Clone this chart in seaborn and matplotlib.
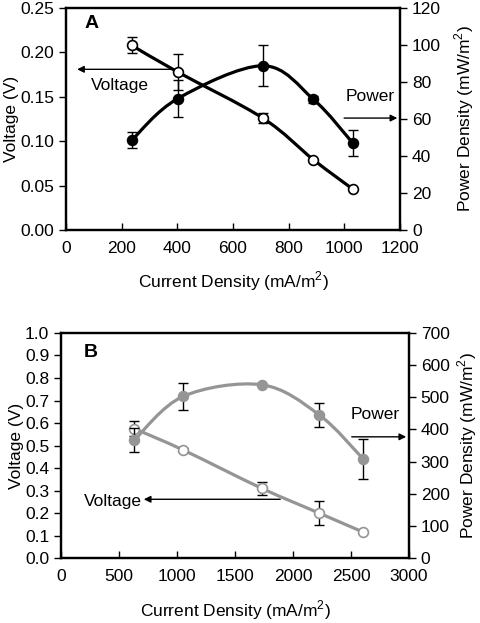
import numpy as np
import seaborn as sns
import matplotlib.pyplot as plt
from matplotlib.path import Path
from matplotlib.patches import PathPatch

# Panel A data
a_current = [236, 401, 707, 889, 1030]
a_voltage = [0.208, 0.178, 0.126, 0.079, 0.046]
a_voltage_err = [0.009, 0.020, 0.006, 0.0, 0.0]
a_power = [48.5, 71.0, 88.8, 70.6, 47.0]
a_power_err = [4.3, 10.0, 11.0, 2.0, 7.0]

# Panel B data
b_current = [632, 1054, 1730, 2224, 2606]
b_voltage = [0.575, 0.48, 0.31, 0.20, 0.115]
b_voltage_err = [0.033, 0.01, 0.03, 0.055, 0.0]
b_power = [367, 503, 539, 446, 308]
b_power_err = [38, 41, 0, 37, 61]

sns.set_style("ticks")
plt.rcParams['font.family'] = ['Liberation Sans', 'DejaVu Sans']
plt.rcParams['mathtext.fontset'] = 'custom'
plt.rcParams['mathtext.rm'] = 'Liberation Sans'
for k in ['text.color', 'axes.labelcolor', 'xtick.color', 'ytick.color', 'axes.edgecolor']:
    plt.rcParams[k] = 'black'

FS = 12.5


def smooth_line(ax, xs, ys, color, lw=2.3):
    # Excel-style smoothed line: Catmull-Rom segments drawn as cubic Bezier curves
    pts = np.column_stack([xs, ys]).astype(float)
    pts = ax.transData.transform(pts)
    n = len(pts)
    verts = [pts[0]]
    codes = [Path.MOVETO]
    for i in range(n - 1):
        p0 = pts[i - 1] if i > 0 else pts[i]
        p1, p2 = pts[i], pts[i + 1]
        p3 = pts[i + 2] if i + 2 < n else pts[i + 1]
        c1 = p1 + (p2 - p0) / 6.0
        c2 = p2 - (p3 - p1) / 6.0
        verts += [c1, c2, p2]
        codes += [Path.CURVE4] * 3
    path = Path(verts, codes)
    ax.add_patch(PathPatch(path, facecolor='none', edgecolor=color, lw=lw,
                           transform=None, zorder=2, capstyle='round'))


def style_axes(ax, ax2):
    for a in (ax, ax2):
        for s in a.spines.values():
            s.set_linewidth(1.6)
            s.set_color('black')
            s.set_visible(True)
    ax.tick_params(axis='x', direction='in', length=5, width=1, labelsize=FS, pad=8)
    ax.tick_params(axis='y', direction='out', length=5, width=1, labelsize=FS)
    ax2.tick_params(axis='y', direction='out', length=5, width=1, labelsize=FS)


fig = plt.figure(figsize=(4.8, 6.23), dpi=100)

# ---------- Panel A ----------
axA = fig.add_axes([0.1375, 0.631, 0.696, 0.356])
axA2 = axA.twinx()
axA.set_xlim(0, 1200)
axA.set_ylim(0, 0.25)
axA2.set_ylim(0, 120)
axA.set_xticks(np.arange(0, 1201, 200))
axA.set_yticks(np.arange(0, 0.251, 0.05))
axA.set_yticklabels([f"{v:.2f}" for v in np.arange(0, 0.251, 0.05)])
axA2.set_yticks(np.arange(0, 121, 20))
style_axes(axA, axA2)
fig.canvas.draw()

smooth_line(axA, a_current, a_voltage, 'black')
smooth_line(axA2, a_current, a_power, 'black')
axA.errorbar(a_current, a_voltage, yerr=a_voltage_err, fmt='none', ecolor='black',
             elinewidth=1, capsize=3.5, zorder=3)
axA2.errorbar(a_current, a_power, yerr=a_power_err, fmt='none', ecolor='black',
              elinewidth=1, capsize=3.5, zorder=3)
sns.scatterplot(x=a_current, y=a_voltage, ax=axA, color='white', edgecolor='black',
                linewidth=1.2, s=50, zorder=4)
sns.scatterplot(x=a_current, y=a_power, ax=axA2, color='black', edgecolor='black',
                linewidth=1.2, s=50, zorder=4)

axA.annotate('', xy=(30, 0.181), xytext=(401, 0.181),
             arrowprops=dict(arrowstyle='-|>', color='black', lw=1, mutation_scale=10))
axA.text(194, 0.163, 'Voltage', ha='center', va='center', fontsize=FS)
axA2.annotate('', xy=(1200, 60.5), xytext=(989, 60.5),
              arrowprops=dict(arrowstyle='-|>', color='black', lw=1, mutation_scale=10))
axA2.text(1093, 72, 'Power', ha='center', va='center', fontsize=FS)
axA.text(0.055, 0.93, 'A', transform=axA.transAxes, fontsize=14, fontweight='bold',
         ha='left', va='center')

axA.set_xlabel('Current Density (mA/m$^2$)', fontsize=FS, labelpad=10)
axA.set_ylabel('Voltage (V)', fontsize=FS, labelpad=1)
axA2.set_ylabel('Power Density (mW/m$^2$)', fontsize=FS, labelpad=8)

# ---------- Panel B ----------
gray = '#959595'
axB = fig.add_axes([0.127, 0.1043, 0.725, 0.3612])
axB2 = axB.twinx()
axB.set_xlim(0, 3000)
axB.set_ylim(0, 1.0)
axB2.set_ylim(0, 700)
axB.set_xticks(np.arange(0, 3001, 500))
axB.set_yticks(np.arange(0, 1.01, 0.1))
axB.set_yticklabels([f"{v:.1f}" for v in np.arange(0, 1.01, 0.1)])
axB2.set_yticks(np.arange(0, 701, 100))
style_axes(axB, axB2)
fig.canvas.draw()

smooth_line(axB, b_current, b_voltage, gray)
smooth_line(axB2, b_current, b_power, gray)
axB.errorbar(b_current, b_voltage, yerr=b_voltage_err, fmt='none', ecolor='black',
             elinewidth=1, capsize=3.5, zorder=3)
axB2.errorbar(b_current, b_power, yerr=b_power_err, fmt='none', ecolor='black',
              elinewidth=1, capsize=3.5, zorder=3)
sns.scatterplot(x=b_current, y=b_voltage, ax=axB, color='white', edgecolor=gray,
                linewidth=1.2, s=50, zorder=4)
sns.scatterplot(x=b_current, y=b_power, ax=axB2, color=gray, edgecolor=gray,
                linewidth=1.2, s=50, zorder=4)

axB.annotate('', xy=(690, 0.261), xytext=(1914, 0.261),
             arrowprops=dict(arrowstyle='-|>', color='black', lw=1, mutation_scale=10))
axB.text(450, 0.25, 'Voltage', ha='center', va='center', fontsize=FS)
axB2.annotate('', xy=(3000, 377), xytext=(2483, 377),
              arrowprops=dict(arrowstyle='-|>', color='black', lw=1, mutation_scale=10))
axB2.text(2707, 445, 'Power', ha='center', va='center', fontsize=FS)
axB.text(0.065, 0.915, 'B', transform=axB.transAxes, fontsize=14, fontweight='bold',
         ha='left', va='center')

axB.set_xlabel('Current Density (mA/m$^2$)', fontsize=FS, labelpad=10)
axB.set_ylabel('Voltage (V)', fontsize=FS, labelpad=1)
axB2.set_ylabel('Power Density (mW/m$^2$)', fontsize=FS, labelpad=4)

fig.savefig('out.png', dpi=100)
